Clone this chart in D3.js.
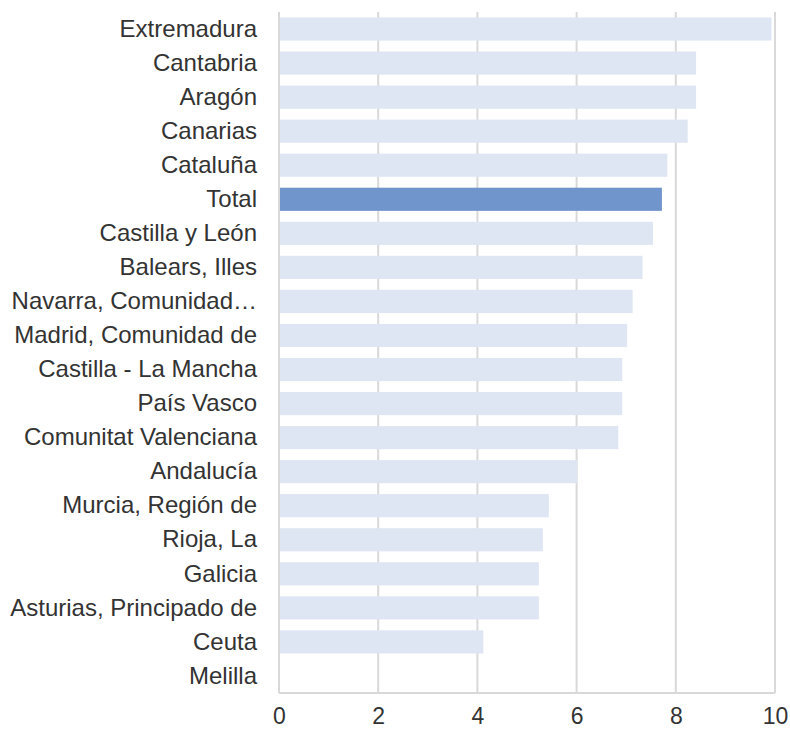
<!DOCTYPE html>
<html><head><meta charset="utf-8">
<script src="https://cdn.jsdelivr.net/npm/d3@7"></script>
<style>body{margin:0;background:#fff;}svg{display:block;}</style>
</head><body>
<script>
const categories = ["Extremadura","Cantabria","Aragón","Canarias","Cataluña","Total","Castilla y León","Balears, Illes","Navarra, Comunidad…","Madrid, Comunidad de","Castilla - La Mancha","País Vasco","Comunitat Valenciana","Andalucía","Murcia, Región de","Rioja, La","Galicia","Asturias, Principado de","Ceuta","Melilla"];
const values = [9.93,8.41,8.41,8.24,7.83,7.72,7.54,7.33,7.13,7.02,6.92,6.92,6.84,6.01,5.44,5.32,5.24,5.24,4.12,0];
const highlight = "Total";
const xTicks = [0,2,4,6,8,10];

const W=790,H=731;
const m={left:279,right:15,top:12,bottom:38};
const svg=d3.select("body").append("svg").attr("width",W).attr("height",H);
const x=d3.scaleLinear().domain([0,10]).range([m.left,W-m.right]);
const y=d3.scaleBand().domain(categories).range([m.top,H-m.bottom]).paddingInner(0.32).paddingOuter(0.16);

svg.append("g").selectAll("line").data(xTicks).join("line")
  .attr("x1",d=>x(d)).attr("x2",d=>x(d)).attr("y1",m.top).attr("y2",H-m.bottom)
  .attr("stroke","#d9d9d9").attr("stroke-width",2);
svg.append("line").attr("x1",x(0)).attr("x2",x(10)).attr("y1",H-m.bottom).attr("y2",H-m.bottom)
  .attr("stroke","#d9d9d9").attr("stroke-width",2);

svg.append("g").selectAll("rect").data(categories).join("rect")
  .attr("x",x(0)+1).attr("y",d=>y(d)).attr("height",y.bandwidth())
  .attr("width",(d,i)=>Math.max(0,x(values[i])-x(0)-1))
  .attr("fill",d=>d===highlight?"#7094cc":"#dfe6f3");

const font="Liberation Sans, Arial, sans-serif";
const xAxis=d3.axisBottom(x).tickValues(xTicks).tickSize(0).tickPadding(15);
const gx=svg.append("g").attr("transform",`translate(0,${H-m.bottom})`).call(xAxis);
gx.select(".domain").remove();
gx.selectAll("text").attr("font-family",font).attr("font-size",23).attr("fill","#333");

const yAxis=d3.axisLeft(y).tickSize(0).tickPadding(22);
const gy=svg.append("g").attr("transform",`translate(${m.left},0)`).call(yAxis);
gy.select(".domain").remove();
gy.selectAll("text").attr("font-family",font).attr("font-size",24).attr("fill","#333");
</script>
</body></html>
